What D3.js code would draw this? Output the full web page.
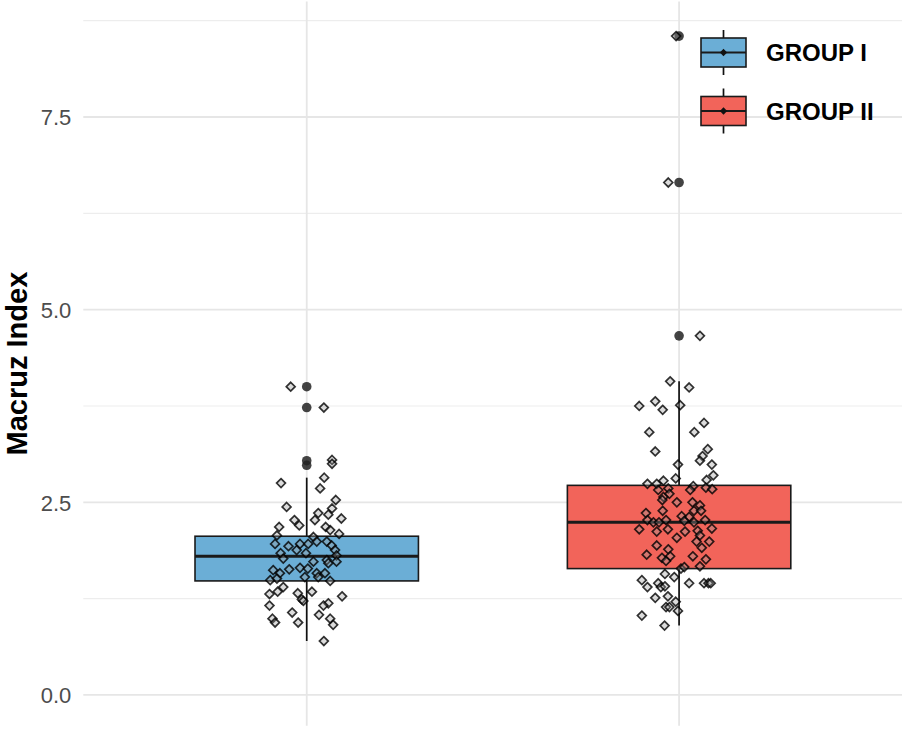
<!DOCTYPE html>
<html>
<head>
<meta charset="utf-8">
<script src="https://cdn.jsdelivr.net/npm/d3@7"></script>
<style>
  body { margin: 0; background: #fff; }
  svg { display: block; font-family: "Liberation Sans", Arial, sans-serif; }
</style>
</head>
<body>
<div id="chart"></div>
<script>
const groups = ["GROUP I", "GROUP II"];
const colors = ["#6BAED6", "#F2645A"];

// box statistics: [lower whisker, q1, median, q3, upper whisker]
const stats1 = [0.70, 1.48, 1.80, 2.06, 2.82];
const stats2 = [0.90, 1.64, 2.24, 2.72, 4.07];
const outliers1 = [4.00, 3.73, 3.04, 2.98];
const outliers2 = [8.55, 6.65, 4.66];

// jittered observations: value and horizontal jitter (in category units)
const values1 = [4.00, 3.73, 3.05, 3.00, 2.75, 2.82, 2.68, 2.53, 2.44, 2.42, 2.34, 2.36, 2.27, 2.29, 2.27,
  2.20, 2.18, 2.18, 2.14, 2.09, 2.07, 2.05, 1.99, 1.96, 1.93, 1.96, 1.96, 1.99, 1.94, 1.88,
  1.84, 1.88, 1.84, 1.81, 1.77, 1.73, 1.75, 1.73, 1.62, 1.63, 1.65, 1.64, 1.71, 1.58, 1.58,
  1.58, 1.53, 1.49, 1.51, 1.53, 1.48, 1.40, 1.31, 1.34, 1.32, 1.24, 1.34, 1.28, 1.22, 1.16,
  1.19, 1.16, 1.07, 0.99, 0.94, 0.94, 1.04, 0.99, 0.91, 0.70];
const jitter1 = [-0.043, 0.046, 0.068, 0.068, -0.069, 0.047, 0.036, 0.078, -0.054, 0.068, 0.058, 0.031, -0.033, 0.093, 0.022,
  -0.020, -0.074, 0.051, 0.063, 0.087, -0.080, 0.018, 0.027, -0.085, -0.049, -0.018, 0.004, 0.054, 0.067, 0.076,
  -0.070, -0.027, -0.002, 0.080, -0.063, 0.018, 0.054, 0.080, -0.090, -0.047, -0.018, 0.003, 0.058, -0.072, 0.027,
  0.049, -0.005, -0.098, -0.080, 0.031, 0.063, -0.063, -0.100, -0.078, -0.024, -0.013, 0.014, 0.095, -0.009, -0.100,
  0.058, 0.045, -0.039, -0.092, -0.085, -0.023, 0.033, 0.063, 0.071, 0.046];

const values2 = [8.55, 6.65, 4.66, 4.07, 3.99, 3.75, 3.81, 3.70, 3.76, 3.53, 3.41, 3.41, 3.16, 3.19, 3.10,
  3.04, 2.99, 2.99, 2.81, 2.85, 2.79, 2.74, 2.74, 2.78, 2.66, 2.68, 2.71, 2.66, 2.69, 2.67,
  2.57, 2.61, 2.50, 2.53, 2.50, 2.46, 2.39, 2.36, 2.39, 2.39, 2.32, 2.31, 2.27, 2.24, 2.24,
  2.27, 2.26, 2.24, 2.27, 2.15, 2.12, 2.15, 2.12, 2.13, 2.16, 2.07, 2.04, 1.99, 1.99, 1.94,
  1.89, 1.91, 1.82, 1.78, 1.80, 1.74, 1.80, 1.76, 1.67, 1.64, 1.66, 1.57, 1.53, 1.49, 1.40,
  1.45, 1.40, 1.41, 1.45, 1.45, 1.45, 1.45, 1.26, 1.28, 1.21, 1.14, 1.14, 1.09, 1.03, 0.90];
const jitter2 = [-0.008, -0.029, 0.056, -0.024, 0.027, -0.107, -0.064, -0.044, 0.003, 0.067, -0.080, 0.041, -0.064, 0.077, 0.063,
  0.056, 0.088, -0.003, -0.009, 0.092, 0.074, -0.085, -0.060, -0.042, -0.056, -0.029, 0.038, 0.030, 0.072, 0.089,
  -0.042, -0.026, -0.006, -0.045, 0.036, 0.056, -0.044, -0.089, 0.040, 0.059, 0.007, 0.027, -0.085, -0.069, -0.054,
  -0.035, 0.014, 0.040, 0.070, -0.107, -0.060, -0.030, 0.016, 0.050, 0.088, 0.056, -0.006, 0.081, 0.047, -0.060,
  -0.029, 0.061, -0.087, -0.046, -0.024, -0.035, 0.037, 0.072, 0.056, 0.005, 0.014, -0.038, -0.013, -0.100, -0.085,
  -0.056, -0.049, -0.038, 0.027, 0.067, 0.079, 0.085, -0.064, -0.030, -0.009, -0.035, -0.026, -0.003, -0.100, -0.039];

const yTicks = [0, 2.5, 5, 7.5];
const yMinor = [1.25, 3.75, 6.25, 8.75];

const W = 902, H = 737;
const svg = d3.select("#chart").append("svg")
  .attr("width", W)
  .attr("height", H);

// category index 1, 2 on a continuous scale (ggplot style discrete axis)
const x = d3.scaleLinear().domain([0.4, 2.6]).range([83.3, 902.5]);
const y = d3.scaleLinear().domain([-0.4, 9.0]).range([725.8, 1.4]);
const panelTop = y(9.0), panelBottom = y(-0.4);

// grid
svg.append("g").selectAll("line.minor")
  .data(yMinor).enter().append("line")
  .attr("x1", x(0.4)).attr("x2", x(2.6))
  .attr("y1", d => y(d)).attr("y2", d => y(d))
  .attr("stroke", "#ededed").attr("stroke-width", 1.2);

svg.append("g").selectAll("line.major")
  .data(yTicks).enter().append("line")
  .attr("x1", x(0.4)).attr("x2", x(2.6))
  .attr("y1", d => y(d)).attr("y2", d => y(d))
  .attr("stroke", "#e6e6e6").attr("stroke-width", 1.8);

svg.append("g").selectAll("line.vert")
  .data([1, 2]).enter().append("line")
  .attr("x1", d => x(d)).attr("x2", d => x(d))
  .attr("y1", panelTop).attr("y2", panelBottom)
  .attr("stroke", "#e6e6e6").attr("stroke-width", 1.8);

// y axis (labels only)
const yAxis = d3.axisLeft(y).tickValues(yTicks).tickFormat(d3.format(".1f")).tickSize(0).tickPadding(12);
const yg = svg.append("g")
  .attr("transform", `translate(${x(0.4)},0)`)
  .call(yAxis);
yg.select(".domain").remove();
yg.selectAll("text")
  .attr("fill", "#4d4d4d")
  .style("font-size", "22px")
  .attr("dy", "0.36em");

svg.append("text")
  .attr("transform", `translate(27,${(panelTop + panelBottom) / 2}) rotate(-90)`)
  .attr("text-anchor", "middle")
  .style("font-size", "29px")
  .style("font-weight", "bold")
  .attr("fill", "#000")
  .text("Macruz Index");

// boxes
const boxW = 0.6;
const boxes = [stats1, stats2];
const outs = [outliers1, outliers2];

boxes.forEach((s, i) => {
  const g = svg.append("g");
  const cx = x(i + 1);
  g.append("line")
    .attr("x1", cx).attr("x2", cx)
    .attr("y1", y(s[0])).attr("y2", y(s[4]))
    .attr("stroke", "#111").attr("stroke-width", 1.7);
  g.append("rect")
    .attr("x", x(i + 1 - boxW / 2))
    .attr("width", x(i + 1 + boxW / 2) - x(i + 1 - boxW / 2))
    .attr("y", y(s[3]))
    .attr("height", y(s[1]) - y(s[3]))
    .attr("fill", colors[i])
    .attr("stroke", "#1a1a1a")
    .attr("stroke-width", 1.6);
  g.append("line")
    .attr("x1", x(i + 1 - boxW / 2)).attr("x2", x(i + 1 + boxW / 2))
    .attr("y1", y(s[2])).attr("y2", y(s[2]))
    .attr("stroke", "#1a1a1a").attr("stroke-width", 3);
  g.selectAll("circle")
    .data(outs[i]).enter().append("circle")
    .attr("cx", cx)
    .attr("cy", d => y(d))
    .attr("r", 4.8)
    .attr("fill", "#222")
    .attr("fill-opacity", 0.85);
});

// jittered points
const diamond = d3.symbol().type(d3.symbolDiamond2).size(50);
const pts = [
  values1.map((v, k) => ({ v: v, j: 1 + jitter1[k] })),
  values2.map((v, k) => ({ v: v, j: 2 + jitter2[k] }))
];
pts.forEach(p => {
  svg.append("g").selectAll("path")
    .data(p).enter().append("path")
    .attr("d", diamond)
    .attr("transform", d => `translate(${x(d.j)},${y(d.v)})`)
    .attr("fill", "#9a9a9a")
    .attr("fill-opacity", 0.35)
    .attr("stroke", "#000")
    .attr("stroke-opacity", 0.8)
    .attr("stroke-width", 1.7);
});

// legend
const legend = svg.append("g").attr("transform", "translate(701,30)");
groups.forEach((name, i) => {
  const g = legend.append("g").attr("transform", `translate(0,${i * 58.5})`);
  g.append("line")
    .attr("x1", 22.5).attr("x2", 22.5).attr("y1", 0).attr("y2", 45)
    .attr("stroke", "#111").attr("stroke-width", 1.7);
  g.append("rect")
    .attr("x", 0).attr("y", 8).attr("width", 45).attr("height", 29)
    .attr("fill", colors[i]).attr("stroke", "#1a1a1a").attr("stroke-width", 1.6);
  g.append("line")
    .attr("x1", 0).attr("x2", 45).attr("y1", 22.5).attr("y2", 22.5)
    .attr("stroke", "#1a1a1a").attr("stroke-width", 2);
  g.append("path")
    .attr("d", d3.symbol().type(d3.symbolDiamond2).size(34))
    .attr("transform", "translate(22.5,22.5)")
    .attr("fill", "#111");
  g.append("text")
    .attr("x", 65).attr("y", 22.5)
    .attr("dy", "0.36em")
    .style("font-size", "24px")
    .style("font-weight", "bold")
    .attr("fill", "#000")
    .text(name);
});
</script>
</body>
</html>
